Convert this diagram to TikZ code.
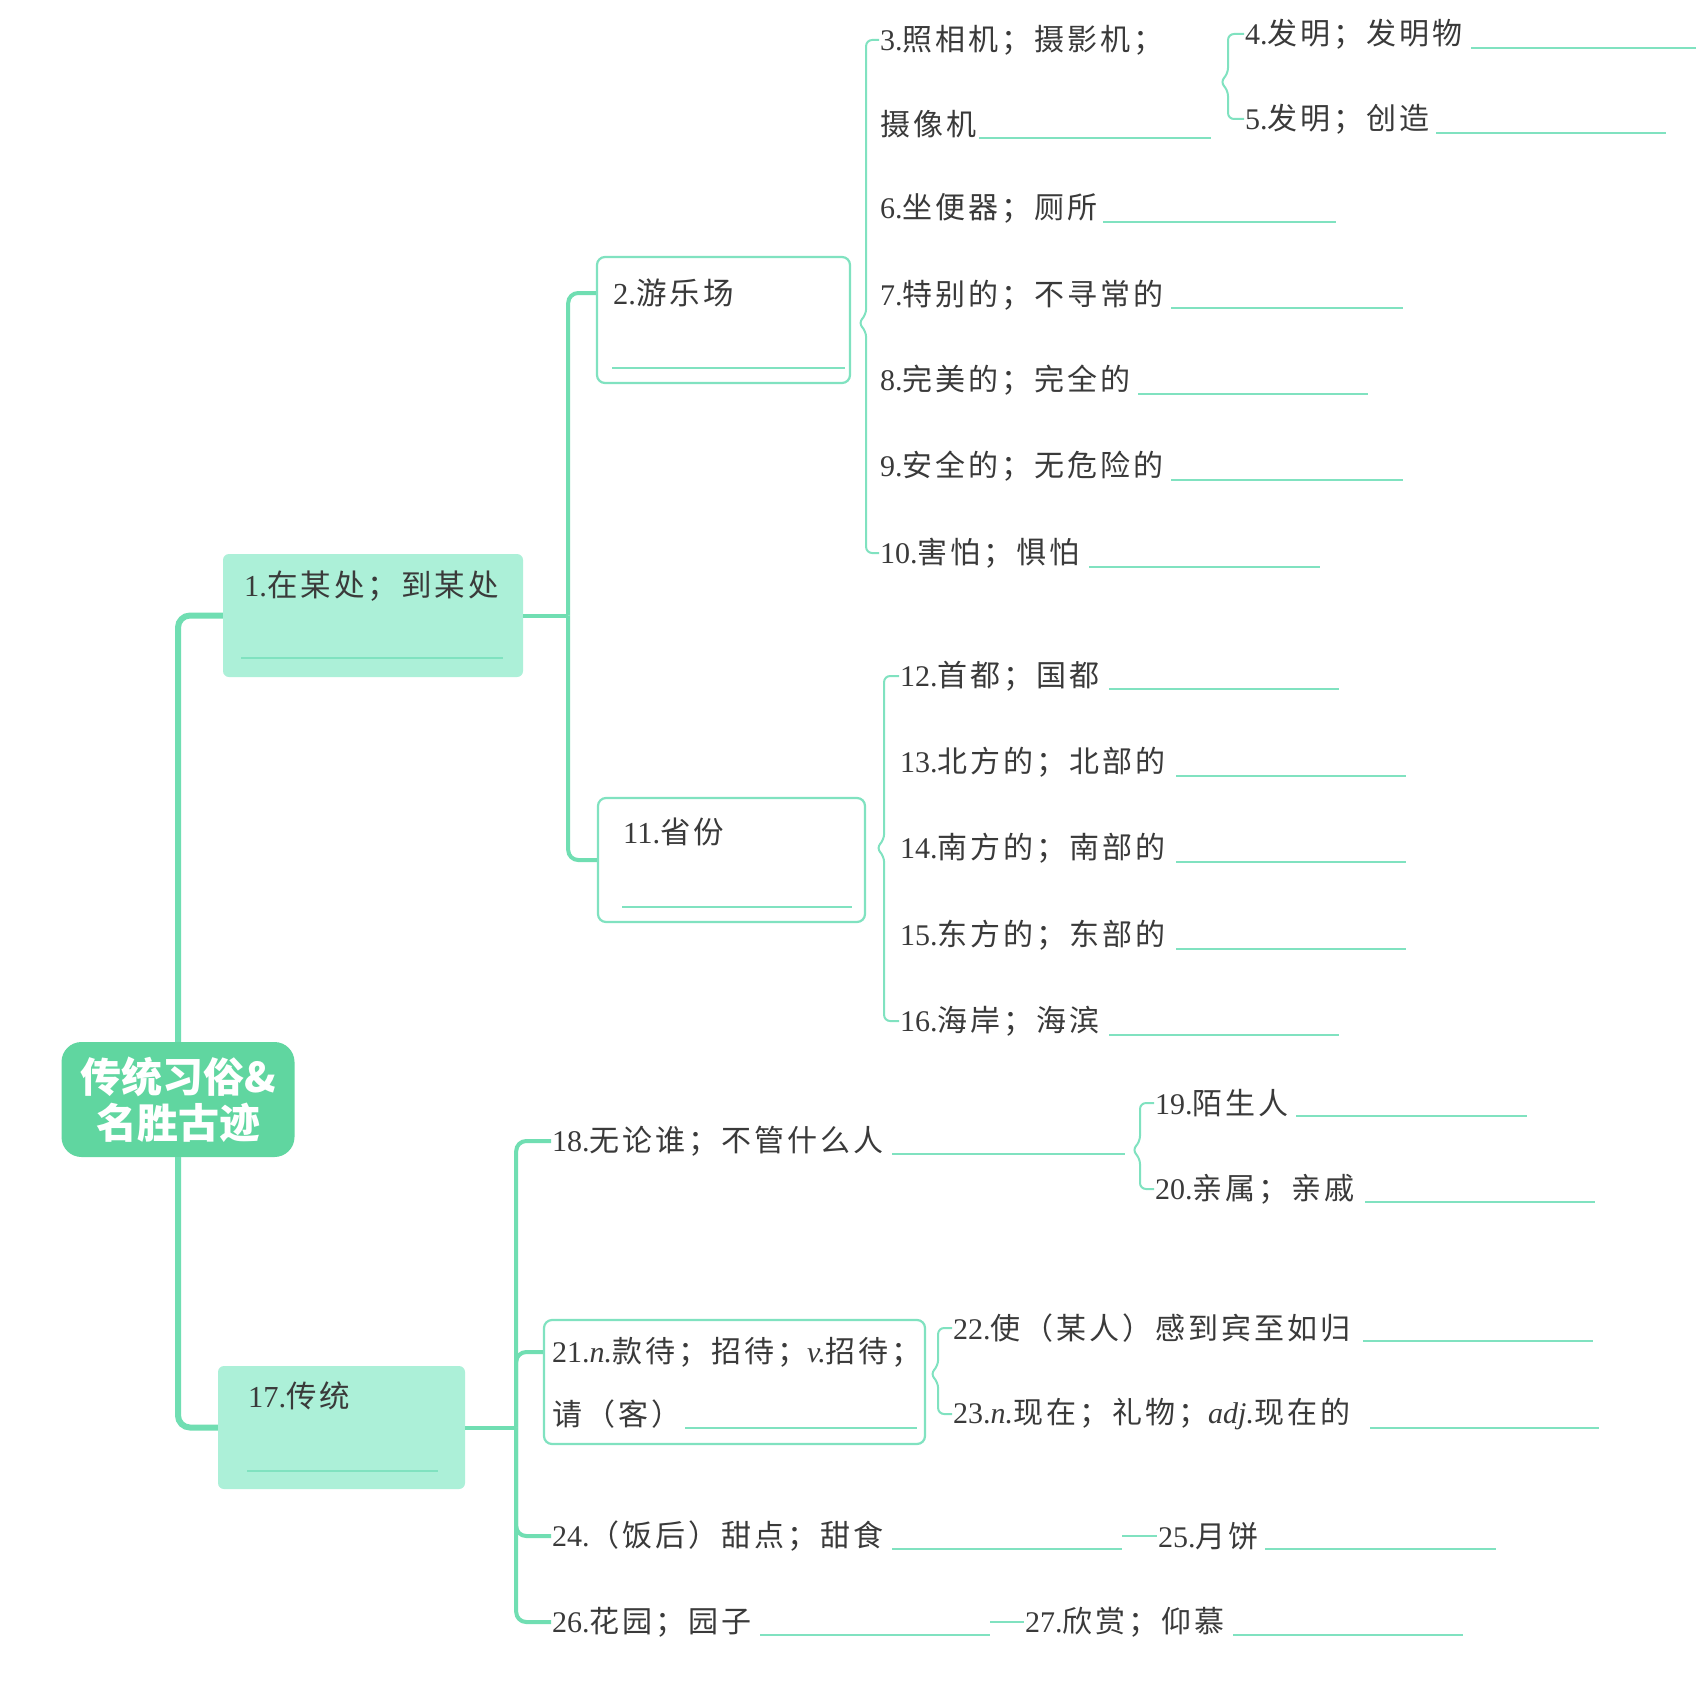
\documentclass[tikz,border=0pt]{standalone}
\usepackage{fontspec}
\setmainfont{Liberation Serif}
\newfontfamily\cjk[LetterSpace=10]{Noto Sans CJK SC}
\newfontfamily\cjkroot{Noto Sans CJK SC}
\usetikzlibrary{calc}

\definecolor{rootgreen}{RGB}{96,214,160}
\definecolor{boxfill}{RGB}{172,240,216}
\definecolor{linegreen}{RGB}{112,222,178}
\definecolor{edgegreen}{RGB}{128,226,192}
\definecolor{inkgray}{RGB}{58,58,58}

\newcommand{\zh}[1]{{\cjk #1}}

\tikzset{
  rootbox/.style={fill=rootgreen, rounded corners=20pt, minimum width=233pt, minimum height=115pt,
    text=white, align=center, font=\cjkroot\bfseries\fontsize{41}{46}\selectfont},
  fillbox/.style={fill=boxfill, rounded corners=6pt},
  linebox/.style={draw=edgegreen, line width=2.2pt, rounded corners=8pt},
  title/.style={anchor=west, inner sep=1pt, text=inkgray, font=\fontsize{30.5}{36}\selectfont},
  item/.style={anchor=west, inner sep=1pt, text=inkgray, font=\fontsize{30}{36}\selectfont},
  trunk/.style={draw=linegreen, line width=6pt, rounded corners=12pt},
  branch/.style={draw=linegreen, line width=4pt, rounded corners=10pt},
  brace/.style={draw=edgegreen, line width=2pt, rounded corners=6pt},
  blank/.style={draw=edgegreen, line width=2pt},
}

\begin{document}
\begin{tikzpicture}[x=1pt, y=-1pt]
  \fill[white] (0,0) rectangle (1696,1691);
  \useasboundingbox (0,0) rectangle (1696,1691);

  % root and the two big boxes
  \node[rootbox] (root) at (178,1099.5) {传统习俗\&\\名胜古迹};

  \node[fillbox, minimum width=300pt, minimum height=123pt] (n1) at (373,615.5) {};
  \node[title] (t1) at (243,586) {1.\zh{在某处；到某处}};
  \draw[blank] (241,658) -- (503,658);

  \node[fillbox, minimum width=247pt, minimum height=123pt] (n17) at (341.5,1427.5) {};
  \node[title] (t17) at (247,1396) {17.\zh{传统}};
  \draw[blank] (247,1471) -- (438,1471);

  \draw[trunk] (root.north) |- (n1.west);
  \draw[trunk] (root.south) |- (n17.west);

  % outlined boxes
  \node[linebox, minimum width=253pt, minimum height=126pt] (n2) at (723.5,320) {};
  \node[title] (t2) at (612,293) {2.\zh{游乐场}};
  \draw[blank] (612,368) -- (845,368);

  \node[linebox, minimum width=267pt, minimum height=124pt] (n11) at (731.5,860) {};
  \node[title] (t11) at (622,832) {11.\zh{省份}};
  \draw[blank] (622,907) -- (852,907);

  \node[linebox, minimum width=381pt, minimum height=124pt] (n21) at (734.5,1382) {};
  \node[item] (t21) at (551,1352) {21.\textit{n.}\zh{款待；招待；}\textit{v.}\zh{招待；}};
  \node[item] (t21b) at (551,1414) {\zh{请（客）}};
  \draw[blank] (685,1428) -- (917,1428);

  \draw[branch] (n1.east) -- ++(45,0) coordinate (j1);
  \draw[branch] (j1) |- (n2.west |- t2.west);
  \draw[branch] (j1) |- (n11.west);

  % items under 2
  \node[item] (t3) at (879,40) {3.\zh{照相机；摄影机；}};
  \node[item] (t3b) at (879,124) {\zh{摄像机}};
  \draw[blank] (979,138) -- (1211,138) coordinate (e3);
  \node[item] (t4) at (1244,34) {4.\zh{发明；发明物}};
  \draw[blank] (1471,48) -- (1696,48);
  \node[item] (t5) at (1244,119) {5.\zh{发明；创造}};
  \draw[blank] (1436,133) -- (1666,133);
  \node[item] (t6) at (879,208) {6.\zh{坐便器；厕所}};
  \draw[blank] (1103,222) -- (1336,222);
  \node[item] (t7) at (879,295) {7.\zh{特别的；不寻常的}};
  \draw[blank] (1171,308) -- (1403,308);
  \node[item] (t8) at (879,380) {8.\zh{完美的；完全的}};
  \draw[blank] (1138,394) -- (1368,394);
  \node[item] (t9) at (879,466) {9.\zh{安全的；无危险的}};
  \draw[blank] (1171,480) -- (1403,480);
  \node[item] (t10) at (879,553) {10.\zh{害怕；惧怕}};
  \draw[blank] (1089,567) -- (1320,567);

  \coordinate (k2) at ($(n2.east)+(7,3)$);
  \draw[brace] (t3.west) -| ($(k2)+(8,-8)$) -- (k2) -- ($(k2)+(8,8)$) |- (t10.west);

  \coordinate (m3) at ($(t3.west)!0.5!(t3b.west)$);
  \coordinate (k3) at ($(e3 |- m3)+(9,0)$);
  \draw[brace] (t4.west) -| ($(k3)+(8,-8)$) -- (k3) -- ($(k3)+(8,8)$) |- (t5.west);

  % items under 11
  \node[item] (t12) at (899,676) {12.\zh{首都；国都}};
  \draw[blank] (1109,689) -- (1339,689);
  \node[item] (t13) at (899,762) {13.\zh{北方的；北部的}};
  \draw[blank] (1176,776) -- (1406,776);
  \node[item] (t14) at (899,848) {14.\zh{南方的；南部的}};
  \draw[blank] (1176,862) -- (1406,862);
  \node[item] (t15) at (899,935) {15.\zh{东方的；东部的}};
  \draw[blank] (1176,949) -- (1406,949);
  \node[item] (t16) at (899,1021) {16.\zh{海岸；海滨}};
  \draw[blank] (1109,1035) -- (1339,1035);

  \coordinate (k11) at ($(n11.east)+(10,-12)$);
  \draw[brace] (t12.west) -| ($(k11)+(8,-8)$) -- (k11) -- ($(k11)+(8,8)$) |- (t16.west);

  % items under 17
  \node[item] (t18) at (551,1141) {18.\zh{无论谁；不管什么人}};
  \draw[blank] (892,1154) -- (1125,1154) coordinate (e18);
  \node[item] (t19) at (1154,1103) {19.\zh{陌生人}};
  \draw[blank] (1296,1116) -- (1527,1116);
  \node[item] (t20) at (1154,1189) {20.\zh{亲属；亲戚}};
  \draw[blank] (1365,1202) -- (1595,1202);

  \coordinate (k18) at ($(e18)+(7,-4)$);
  \draw[brace] (t19.west) -| ($(k18)+(8,-8)$) -- (k18) -- ($(k18)+(8,8)$) |- (t20.west);

  \node[item] (t22) at (952,1328) {22.\zh{使（某人）感到宾至如归}};
  \draw[blank] (1363,1341) -- (1593,1341);
  \node[item] (t23) at (952,1414) {23.\textit{n.}\zh{现在；礼物；}\textit{adj.}\zh{现在的}};
  \draw[blank] (1370,1428) -- (1599,1428);

  \coordinate (k21) at ($(n21.east)+(4,-8)$);
  \draw[brace] (t22.west) -| ($(k21)+(8,-8)$) -- (k21) -- ($(k21)+(8,8)$) |- (t23.west);

  \node[item] (t24) at (551,1536) {24.\zh{（饭后）甜点；甜食}};
  \draw[blank] (892,1549) -- (1122,1549) coordinate (e24);
  \node[item] (t25) at (1157,1536) {25.\zh{月饼}};
  \draw[blank] (1265,1549) -- (1496,1549);
  \draw[blank] (e24 |- t25.west) -- (t25.west);

  \node[item] (t26) at (551,1622) {26.\zh{花园；园子}};
  \draw[blank] (760,1635) -- (990,1635) coordinate (e26);
  \node[item] (t27) at (1024,1622) {27.\zh{欣赏；仰慕}};
  \draw[blank] (1233,1635) -- (1463,1635);
  \draw[blank] (e26 |- t27.west) -- (t27.west);

  \draw[branch] (n17.east) -- ++(51,0) coordinate (j17);
  \draw[branch] (j17) |- (t18.west);
  \draw[branch] (j17) |- (n21.west |- t21.west);
  \draw[branch] (j17) |- (t24.west);
  \draw[branch] (j17) |- (t26.west);
\end{tikzpicture}
\end{document}
